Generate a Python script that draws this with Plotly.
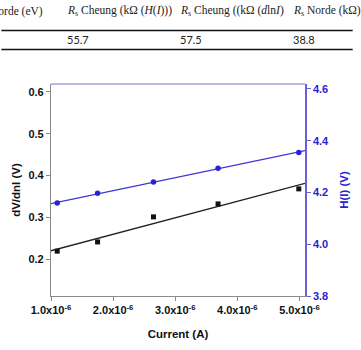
import numpy as np
import plotly.graph_objects as go

# ---- data ----
current = [1.10e-6, 1.75e-6, 2.65e-6, 3.69e-6, 4.99e-6]
dv_dlni = [0.219, 0.241, 0.301, 0.332, 0.368]
h_i = [4.159, 4.197, 4.240, 4.294, 4.354]
fit_span = [1.0e-6, 5.09e-6]

x_tickvals = [1e-6, 2e-6, 3e-6, 4e-6, 5e-6]
x_ticktext = ["1.0x10<sup>-6</sup>", "2.0x10<sup>-6</sup>", "3.0x10<sup>-6</sup>",
              "4.0x10<sup>-6</sup>", "5.0x10<sup>-6</sup>"]

table_headers = ["Norde (eV)", "<i>R</i><sub>s</sub> Cheung (kΩ (<i>H</i>(<i>I</i>)))",
                 "<i>R</i><sub>s</sub> Cheung ((kΩ (<i>d</i>ln<i>I</i>)",
                 "<i>R</i><sub>s</sub> Norde (kΩ)"]
table_values = ["", "55.7", "57.5", "38.8"]

# ---- fits ----
xs = np.array(current) * 1e6
b_fit = np.polyfit(xs, dv_dlni, 1)
h_fit = np.polyfit(xs, h_i, 1)
span = np.array(fit_span)
b_line = np.polyval(b_fit, span * 1e6)
h_line = np.polyval(h_fit, span * 1e6)

BLUE = "#2a22d6"
AXBLUE = "#6b60d2"
GRAY = "#8a8a8a"

fig = go.Figure()
fig.add_trace(go.Scatter(x=span, y=b_line, mode="lines",
                         line=dict(color="#222222", width=1.3), showlegend=False))
fig.add_trace(go.Scatter(x=current, y=dv_dlni, mode="markers",
                         marker=dict(symbol="square", size=5, color="#111111"), showlegend=False))
fig.add_trace(go.Scatter(x=span, y=h_line, mode="lines", yaxis="y2",
                         line=dict(color="#3d35d8", width=1.3), showlegend=False))
fig.add_trace(go.Scatter(x=current, y=h_i, mode="markers", yaxis="y2",
                         marker=dict(symbol="circle", size=5.5, color=BLUE), showlegend=False))

L, R, T, B = 51, 49, 84, 42
W, H = 361, 350
pw, ph = W - L - R, H - T - B
def px2x(px):
    return (px - L) / pw
def py2y(py):
    return (H - B - py) / ph

tick_font = dict(family="Liberation Sans", size=11, color="#111111")
fig.update_layout(
    width=W, height=H, margin=dict(l=L, r=R, t=T, b=B),
    paper_bgcolor="white", plot_bgcolor="white",
    xaxis=dict(range=fit_span, tickvals=x_tickvals,
               ticktext=["<b>%s</b>" % t for t in x_ticktext],
               showline=True, linecolor=GRAY, linewidth=1.2,
               ticks="outside", ticklen=4, tickcolor=GRAY, tickwidth=1.2,
               showgrid=False, zeroline=False, tickfont=tick_font,
               title=dict(text="<b>Current (A)</b>", standoff=14,
                          font=dict(family="Liberation Sans", size=11.5, color="#111111"))),
    yaxis=dict(range=[0.1116, 0.619], tickvals=[0.2, 0.3, 0.4, 0.5, 0.6],
               ticktext=["<b>0.2</b>", "<b>0.3</b>", "<b>0.4</b>", "<b>0.5</b>", "<b>0.6</b>"],
               showline=True, linecolor=GRAY, linewidth=1.2,
               ticks="outside", ticklen=4, tickcolor=GRAY, tickwidth=1.2,
               showgrid=False, zeroline=False, tickfont=tick_font,
               title=dict(text="<b>dV/dnI (V)</b>", standoff=5,
                          font=dict(family="Liberation Sans", size=11.5, color="#111111"))),
    yaxis2=dict(range=[3.8, 4.619], overlaying="y", side="right",
                tickvals=[3.8, 4.0, 4.2, 4.4, 4.6],
                ticktext=["<b>3.8</b>", "<b>4.0</b>", "<b>4.2</b>", "<b>4.4</b>", "<b>4.6</b>"],
                showline=True, linecolor=AXBLUE, linewidth=1.5,
                ticks="outside", ticklen=4, tickcolor=AXBLUE, tickwidth=1.2,
                showgrid=False, zeroline=False,
                tickfont=dict(family="Liberation Sans", size=11, color=BLUE),
                title=dict(text="<b>H(I) (V)</b>", standoff=12,
                           font=dict(family="Liberation Sans", size=11.5, color=BLUE))),
)

# top border of the plot
fig.add_shape(type="line", xref="paper", yref="paper", x0=0, x1=1, y0=1, y1=1,
              line=dict(color="#a39ee6", width=1.5))

# table fragment above the chart
for yy in (27.5, 47.5):
    fig.add_shape(type="line", xref="paper", yref="paper",
                  x0=px2x(0), x1=px2x(361), y0=py2y(yy), y1=py2y(yy),
                  line=dict(color="#111111", width=1.6))

col_x = [45, 65, 182, 298]
col_anchor = ["right", "left", "left", "left"]
for cx, anc, hd, val in zip(col_x, col_anchor, table_headers, table_values):
    fig.add_annotation(xref="paper", yref="paper", x=px2x(cx), y=py2y(7),
                       text=hd, showarrow=False, xanchor=anc, yanchor="middle",
                       font=dict(family="Liberation Serif", size=11.5, color="#222222"))
    if val:
        fig.add_annotation(xref="paper", yref="paper", x=px2x(cx), y=py2y(37.5),
                           text=val, showarrow=False, xanchor="left", yanchor="middle",
                           font=dict(family="Lato", size=11, color="#222222"))

fig.write_html("out.html")
